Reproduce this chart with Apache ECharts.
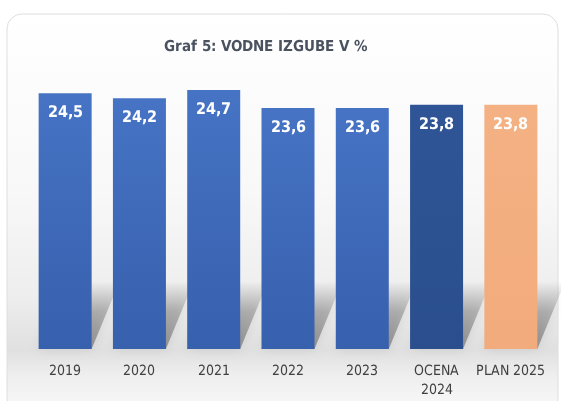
<!DOCTYPE html>
<html>
<head>
<meta charset="utf-8">
<title>Graf 5: VODNE IZGUBE V %</title>
<script src="https://cdn.jsdelivr.net/npm/echarts@6/dist/echarts.min.js"></script>
<style>
    @font-face {
        font-family: "CondSans";
        font-weight: normal;
        src: local("DejaVu Sans Condensed"), local("DejaVuSansCondensed");
    }
    @font-face {
        font-family: "CondSans";
        font-weight: bold;
        src: local("DejaVu Sans Condensed Bold"), local("DejaVuSansCondensed-Bold");
    }
    html, body { margin: 0; padding: 0; background: #fff; }
    #chart { width: 561px; height: 401px; }
</style>
</head>
<body>
<div id="chart"></div>
<script>
// values
const categories = ["2019", "2020", "2021", "2022", "2023", "OCENA\n2024", "PLAN 2025"];
const losses = [24.5, 24.2, 24.7, 23.6, 23.6, 23.8, 23.8];

const FONT = "CondSans, Roboto, sans-serif";
const BAR_W = 53;
const Y_MIN = 9;

const grad = (top, bottom) =>
    new echarts.graphic.LinearGradient(0, 0, 0, 1, [
        { offset: 0, color: top },
        { offset: 1, color: bottom },
    ]);

function barColor(i) {
    if (i === 5) return grad("#2f5597", "#2b4f8d");
    if (i === 6) return grad("#f4b183", "#f2ab7c");
    return grad("#4673c4", "#3760ad");
}

function draw() {
    const chart = echarts.init(document.getElementById("chart"), null, { renderer: "canvas" });

    const option = {
        animation: false,
        textStyle: { fontFamily: FONT },
        graphic: [
            {
                type: "rect",
                z: -10,
                silent: true,
                shape: { x: 7, y: 14, width: 551, height: 400, r: 15 },
                style: {
                    stroke: "#dedede",
                    lineWidth: 1,
                    fill: new echarts.graphic.LinearGradient(0, 0, 0, 1, [
                        { offset: 0, color: "#ffffff" },
                        { offset: 0.45, color: "#f8f8f8" },
                        { offset: 0.7, color: "#eeeeee" },
                        { offset: 0.84, color: "#e0e0e0" },
                        { offset: 0.9, color: "#eeeeee" },
                        { offset: 1, color: "#fafafa" },
                    ]),
                },
            },
        ],
        title: {
            text: "Graf 5: VODNE IZGUBE V %",
            left: 261,
            top: 35,
            textAlign: "center",
            textStyle: {
                fontFamily: FONT,
                fontSize: 15,
                fontWeight: "bold",
                color: "#4a5260",
            },
        },
        grid: { left: 28, right: 13, top: 85, bottom: 52 },
        xAxis: {
            type: "category",
            data: categories,
            axisLine: { show: false },
            axisTick: { show: false },
            axisLabel: {
                color: "#404040",
                fontFamily: FONT,
                fontSize: 13.5,
                lineHeight: 19,
                margin: 13,
                interval: 0,
            },
        },
        yAxis: {
            type: "value",
            min: Y_MIN,
            max: 25,
            show: false,
            splitLine: { show: false },
        },
        series: [
            {
                // soft cast shadow behind each bar
                type: "custom",
                z: 1,
                silent: true,
                data: losses.map((v, i) => [i, v]),
                renderItem(params, api) {
                    const p = api.coord([api.value(0), Y_MIN]);
                    const x0 = p[0] - BAR_W / 2;
                    const x1 = p[0] + BAR_W / 2;
                    const yb = p[1];
                    const dx = 28;
                    const h = 68;
                    return {
                        type: "polygon",
                        shape: {
                            points: [
                                [x0, yb],
                                [x1, yb],
                                [x1 + dx, yb - h],
                                [x0 + dx, yb - h],
                            ],
                        },
                        style: {
                            fill: new echarts.graphic.LinearGradient(0, 0, 0, 1, [
                                { offset: 0, color: "rgba(0,0,0,0)" },
                                { offset: 0.45, color: "rgba(0,0,0,0.22)" },
                                { offset: 1, color: "rgba(0,0,0,0.33)" },
                            ]),
                            shadowBlur: 12,
                            shadowColor: "rgba(0,0,0,0.3)",
                        },
                    };
                },
            },
            {
                type: "bar",
                z: 2,
                data: losses,
                barWidth: BAR_W,
                itemStyle: {
                    color: (p) => barColor(p.dataIndex),
                },
                label: {
                    show: true,
                    position: "insideTop",
                    distance: 12,
                    color: "#ffffff",
                    fontFamily: FONT,
                    fontSize: 16,
                    fontWeight: "bold",
                    formatter: (p) => String(p.value).replace(".", ","),
                },
            },
        ],
    };

    chart.setOption(option);
}

Promise.all([
    document.fonts.load("bold 16px CondSans"),
    document.fonts.load("13.5px CondSans"),
])
    .catch(() => null)
    .then(draw);
</script>
</body>
</html>
